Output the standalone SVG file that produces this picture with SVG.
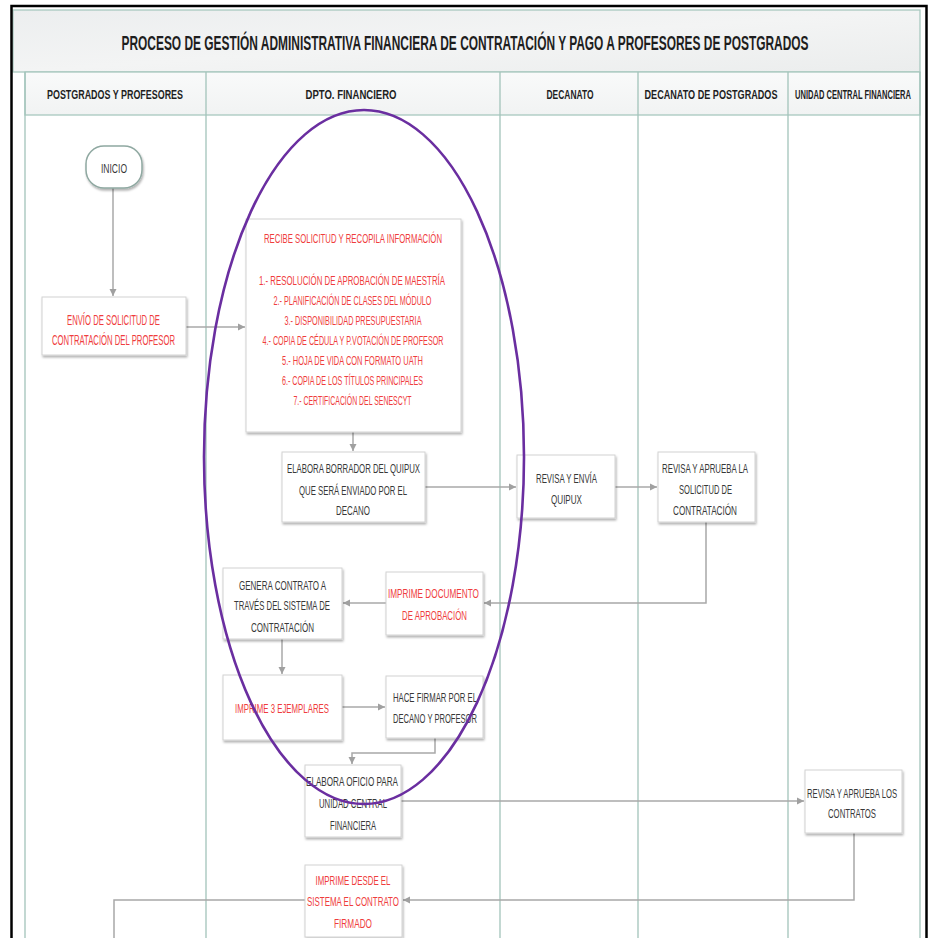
<svg xmlns="http://www.w3.org/2000/svg" width="928" height="938" viewBox="0 0 928 938">
<style>
.t{font-family:"Liberation Sans Narrow","Liberation Sans",Arial,sans-serif;text-anchor:middle}
.tt{font-size:20px;font-weight:bold;fill:#1e1e1e}
.h{font-size:13.5px;font-weight:bold;fill:#1e1e1e}
.hs{font-size:12px;font-weight:bold;fill:#1e1e1e}
.b{font-size:13px;fill:#383838}
.r{font-size:12.5px;fill:#ef3d3d}
.rb{font-size:13px;fill:#ef3d3d}
.r2{font-size:14px;fill:#ef3d3d}
.box{fill:#fff;stroke:#d2d2d2;stroke-width:1;filter:url(#sh)}
.lane{stroke:#a3c4ba;stroke-width:1.3;fill:none}
.c{fill:none;stroke:#a8a8a8;stroke-width:1.5}
</style>
<defs>
<filter id="sh" x="-10%" y="-10%" width="130%" height="130%">
<feDropShadow dx="1" dy="2" stdDeviation="1.3" flood-color="#000" flood-opacity="0.3"/>
</filter>
<linearGradient id="tg" x1="0" y1="0" x2="1" y2="1">
<stop offset="0" stop-color="#eceeef"/>
<stop offset="0.5" stop-color="#f3f4f4"/>
<stop offset="1" stop-color="#ebeded"/>
</linearGradient>
<linearGradient id="hg" x1="0" y1="0" x2="0" y2="1">
<stop offset="0" stop-color="#f9fafa"/>
<stop offset="1" stop-color="#f1f3f3"/>
</linearGradient>
<marker id="ar" markerWidth="8" markerHeight="8" refX="7" refY="4" orient="auto" markerUnits="userSpaceOnUse">
<path d="M0,0.5 L7,4 L0,7.5 Z" fill="#a0a0a0"/>
</marker>
</defs>
<rect x="0" y="0" width="928" height="938" fill="#fff"/>
<g id="frame">
<rect x="13" y="10" width="907" height="62" fill="url(#tg)" stroke="#a8c8bf" stroke-width="1.3"/>
<rect x="25" y="72" width="895" height="43" fill="url(#hg)" stroke="#a8c8bf" stroke-width="1.3"/>
<path class="lane" d="M25,72 V938 M206,72 V938 M500,72 V938 M638,72 V938 M788,72 V938 M920,72 V938"/>
<path d="M11.5,938 V6 H926.5 V938" fill="none" stroke="#000" stroke-width="2.5"/>
<text class="t tt" transform="translate(465,50) scale(0.55,1)" x="0" y="0" textLength="1249" lengthAdjust="spacingAndGlyphs">PROCESO DE GESTIÓN ADMINISTRATIVA FINANCIERA DE CONTRATACIÓN Y PAGO A PROFESORES DE POSTGRADOS</text>
<text class="t h" x="115" y="99" textLength="136" lengthAdjust="spacingAndGlyphs">POSTGRADOS Y PROFESORES</text>
<text class="t h" x="351" y="99" textLength="91" lengthAdjust="spacingAndGlyphs">DPTO. FINANCIERO</text>
<text class="t h" x="570" y="99" textLength="47" lengthAdjust="spacingAndGlyphs">DECANATO</text>
<text class="t h" transform="translate(711,99) scale(0.65,1)" x="0" y="0" textLength="204.6" lengthAdjust="spacingAndGlyphs">DECANATO DE POSTGRADOS</text>
<text class="t hs" transform="translate(853,99) scale(0.58,1)" x="0" y="0" textLength="200" lengthAdjust="spacingAndGlyphs">UNIDAD CENTRAL FINANCIERA</text>
</g>
<g id="connectors">
<path class="c" d="M113,188 V296" marker-end="url(#ar)"/>
<path class="c" d="M186,327 H245" marker-end="url(#ar)"/>
<path class="c" d="M353,432 V451" marker-end="url(#ar)"/>
<path class="c" d="M425,487 H516" marker-end="url(#ar)"/>
<path class="c" d="M615,487 H657" marker-end="url(#ar)"/>
<path class="c" d="M706,522 V603 H484" marker-end="url(#ar)"/>
<path class="c" d="M386,603 H343" marker-end="url(#ar)"/>
<path class="c" d="M282,639 V674" marker-end="url(#ar)"/>
<path class="c" d="M342,707 H385" marker-end="url(#ar)"/>
<path class="c" d="M435,738 V753 H352 V764" marker-end="url(#ar)"/>
<path class="c" d="M401,801 H804" marker-end="url(#ar)"/>
<path class="c" d="M854,833 V900 H403" marker-end="url(#ar)"/>
<path class="c" d="M305,900 H114 V938"/>
</g>
<g id="inicio">
<rect x="86" y="146" width="56" height="42" rx="18" fill="#fff" stroke="#8fa8a1" stroke-width="1.5" filter="url(#sh)"/>
<text class="t b" x="114" y="173" textLength="26" lengthAdjust="spacingAndGlyphs">INICIO</text>
</g>
<g id="envio">
<rect class="box" x="42" y="297" width="144" height="58"/>
<text class="t r2" x="113.5" y="325" textLength="93" lengthAdjust="spacingAndGlyphs">ENVÍO DE SOLICITUD DE</text>
<text class="t r2" x="113.5" y="345" textLength="123" lengthAdjust="spacingAndGlyphs">CONTRATACIÓN DEL PROFESOR</text>
</g>
<g id="recibe">
<rect class="box" x="246" y="219" width="215" height="213"/>
<text class="t r" x="353" y="243" textLength="178" lengthAdjust="spacingAndGlyphs">RECIBE SOLICITUD Y RECOPILA INFORMACIÓN</text>
<text class="t r" x="352" y="285" textLength="186" lengthAdjust="spacingAndGlyphs">1.- RESOLUCIÓN DE APROBACIÓN DE MAESTRÍA</text>
<text class="t r" x="352.5" y="305" textLength="158" lengthAdjust="spacingAndGlyphs">2.- PLANIFICACIÓN DE CLASES DEL MÓDULO</text>
<text class="t r" x="353" y="325" textLength="137" lengthAdjust="spacingAndGlyphs">3.- DISPONIBILIDAD PRESUPUESTARIA</text>
<text class="t r" x="353" y="345" textLength="181" lengthAdjust="spacingAndGlyphs">4.- COPIA DE CÉDULA Y P.VOTACIÓN DE PROFESOR</text>
<text class="t r" x="352.5" y="365" textLength="141" lengthAdjust="spacingAndGlyphs">5.- HOJA DE VIDA CON FORMATO UATH</text>
<text class="t r" x="352.5" y="385" textLength="141" lengthAdjust="spacingAndGlyphs">6.- COPIA DE LOS TÍTULOS PRINCIPALES</text>
<text class="t r" x="352.5" y="405" textLength="118" lengthAdjust="spacingAndGlyphs">7.- CERTIFICACIÓN DEL SENESCYT</text>
</g>
<g id="borrador">
<rect class="box" x="282" y="452" width="143" height="70"/>
<text class="t b" x="353.5" y="473" textLength="133" lengthAdjust="spacingAndGlyphs">ELABORA BORRADOR DEL QUIPUX</text>
<text class="t b" x="353" y="495" textLength="108" lengthAdjust="spacingAndGlyphs">QUE SERÁ ENVIADO POR EL</text>
<text class="t b" x="353" y="515" textLength="34" lengthAdjust="spacingAndGlyphs">DECANO</text>
</g>
<g id="revisa-envia">
<rect class="box" x="517" y="455" width="98" height="63"/>
<text class="t b" x="566.5" y="483" textLength="61" lengthAdjust="spacingAndGlyphs">REVISA Y ENVÍA</text>
<text class="t b" x="566.5" y="504" textLength="31" lengthAdjust="spacingAndGlyphs">QUIPUX</text>
</g>
<g id="revisa-aprueba-solicitud">
<rect class="box" x="658" y="452" width="97" height="70"/>
<text class="t b" x="705" y="473" textLength="86" lengthAdjust="spacingAndGlyphs">REVISA Y APRUEBA LA</text>
<text class="t b" x="705.5" y="494" textLength="53" lengthAdjust="spacingAndGlyphs">SOLICITUD DE</text>
<text class="t b" x="705" y="515" textLength="64" lengthAdjust="spacingAndGlyphs">CONTRATACIÓN</text>
</g>
<g id="imprime-documento">
<rect class="box" x="386" y="572" width="97" height="63"/>
<text class="t rb" x="433.5" y="598" textLength="91" lengthAdjust="spacingAndGlyphs">IMPRIME DOCUMENTO</text>
<text class="t rb" x="434.5" y="620" textLength="65" lengthAdjust="spacingAndGlyphs">DE APROBACIÓN</text>
</g>
<g id="genera-contrato">
<rect class="box" x="223" y="568" width="119" height="71"/>
<text class="t b" x="282.5" y="590" textLength="87" lengthAdjust="spacingAndGlyphs">GENERA CONTRATO A</text>
<text class="t b" x="282" y="610" textLength="96" lengthAdjust="spacingAndGlyphs">TRAVÉS DEL SISTEMA DE</text>
<text class="t b" x="282.5" y="632" textLength="63" lengthAdjust="spacingAndGlyphs">CONTRATACIÓN</text>
</g>
<g id="imprime-ejemplares">
<rect class="box" x="223" y="675" width="119" height="65"/>
<text class="t rb" x="282" y="713" textLength="94" lengthAdjust="spacingAndGlyphs">IMPRIME 3 EJEMPLARES</text>
</g>
<g id="hace-firmar">
<rect class="box" x="386" y="676" width="97" height="62"/>
<text class="t b" x="435" y="702" textLength="84" lengthAdjust="spacingAndGlyphs">HACE FIRMAR POR EL</text>
<text class="t b" x="435" y="723" textLength="84" lengthAdjust="spacingAndGlyphs">DECANO Y PROFESOR</text>
</g>
<g id="elabora-oficio">
<rect class="box" x="305" y="765" width="96" height="72"/>
<text class="t b" x="352" y="786" textLength="92" lengthAdjust="spacingAndGlyphs">ELABORA OFICIO PARA</text>
<text class="t b" x="353" y="808" textLength="68" lengthAdjust="spacingAndGlyphs">UNIDAD CENTRAL</text>
<text class="t b" x="353" y="830" textLength="46" lengthAdjust="spacingAndGlyphs">FINANCIERA</text>
</g>
<g id="revisa-aprueba-contratos">
<rect class="box" x="805" y="770" width="97" height="63"/>
<text class="t b" transform="translate(852,798) scale(0.55,1)" x="0" y="0" textLength="163.6" lengthAdjust="spacingAndGlyphs">REVISA Y APRUEBA LOS</text>
<text class="t b" x="852" y="818" textLength="48" lengthAdjust="spacingAndGlyphs">CONTRATOS</text>
</g>
<g id="imprime-contrato">
<rect class="box" x="305" y="865" width="97" height="72"/>
<text class="t rb" x="353" y="885" textLength="75" lengthAdjust="spacingAndGlyphs">IMPRIME DESDE EL</text>
<text class="t rb" x="353" y="906" textLength="92" lengthAdjust="spacingAndGlyphs">SISTEMA EL CONTRATO</text>
<text class="t rb" x="353" y="928" textLength="38" lengthAdjust="spacingAndGlyphs">FIRMADO</text>
</g>
<g id="highlight">
<ellipse cx="364" cy="457" rx="160" ry="347" fill="none" stroke="#6a2ea0" stroke-width="2.6"/>
</g>
</svg>
